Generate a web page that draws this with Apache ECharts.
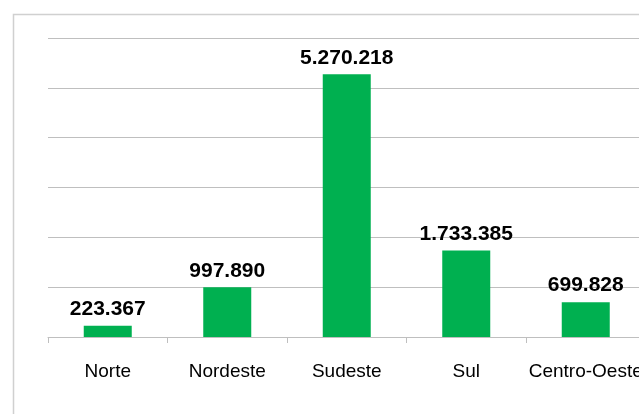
<!DOCTYPE html>
<html>
<head>
<meta charset="utf-8">
<script src="https://cdn.jsdelivr.net/npm/echarts@6/dist/echarts.min.js"></script>
<style>
html,body{margin:0;padding:0;background:#fff;}
#c{width:639px;height:414px;}
</style>
</head>
<body>
<div id="c"></div>
<script>
const categories = ['Norte', 'Nordeste', 'Sudeste', 'Sul', 'Centro-Oeste'];
const values = [223367, 997890, 5270218, 1733385, 699828];
const yMax = 6000000;
const yInterval = 1000000;

function fmt(v) {
  return String(v).replace(/\B(?=(\d{3})+(?!\d))/g, '.');
}

const chart = echarts.init(document.getElementById('c'), null, {renderer: 'canvas'});
chart.setOption({
  animation: false,
  backgroundColor: '#ffffff',
  graphic: [{
    type: 'rect',
    shape: {x: 13.5, y: 14.5, width: 700, height: 500},
    style: {fill: 'none', stroke: '#d0d0d0', lineWidth: 1.5},
    silent: true,
    z: -1
  }],
  grid: {left: 48, top: 38, width: 597.5, height: 299, containLabel: false, outerBoundsMode: 'none'},
  xAxis: {
    type: 'category',
    data: categories,
    boundaryGap: true,
    axisLine: {show: true, lineStyle: {color: '#bfbfbf', width: 1}},
    axisTick: {show: true, length: 6, alignWithLabel: false, lineStyle: {color: '#bfbfbf'}},
    axisLabel: {
      color: '#000', fontSize: 19, fontFamily: 'Liberation Sans', margin: 25,
      interval: 0, overflow: 'none', hideOverlap: false
    }
  },
  yAxis: {
    type: 'value',
    min: 0, max: yMax, interval: yInterval,
    axisLabel: {show: false},
    axisLine: {show: false},
    axisTick: {show: false},
    splitLine: {show: true, lineStyle: {color: '#bfbfbf', width: 1}}
  },
  series: [{
    type: 'bar',
    data: values,
    barWidth: 48,
    itemStyle: {color: '#00b050'},
    label: {
      show: true,
      position: 'top',
      distance: 6,
      color: '#000',
      fontSize: 21,
      fontWeight: 'bold',
      fontFamily: 'Liberation Sans',
      formatter: p => fmt(p.value)
    }
  }]
});
</script>
</body>
</html>
